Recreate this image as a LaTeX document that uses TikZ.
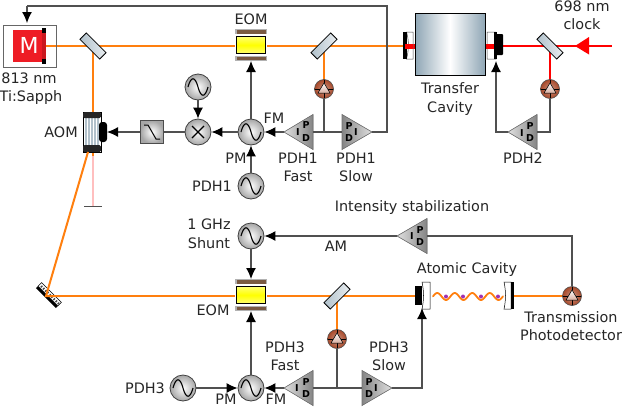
\documentclass[tikz,border=0pt]{standalone}
\usepackage{fontspec}
\setmainfont{DejaVu Sans}
\usetikzlibrary{arrows.meta,calc,shapes.geometric}
\definecolor{beam}{HTML}{FF7F0E}
\definecolor{wirec}{HTML}{505050}
\definecolor{brownb}{HTML}{7A5A42}
\definecolor{steel}{HTML}{8FA6B5}
\definecolor{pdred}{HTML}{A8492A}
\definecolor{dotc}{HTML}{A030B0}
\definecolor{laserred}{HTML}{EE1C25}
\tikzset{
  lbl/.style={font=\fontsize{14.4}{16}\selectfont,inner sep=0pt,text=black!85,text height=10.5pt,text depth=0pt},
  beamline/.style={draw=beam,line width=2pt},
  redline/.style={draw=red,line width=2pt},
  wire/.style={draw=wirec,line width=1.2pt},
  sig/.style={wire,-{Latex[length=11pt,width=10pt,black]}},
  osc/.style={circle,draw=black!75,line width=.8pt,minimum size=26pt,inner sep=0pt,inner color=white,outer color=black!35,
    path picture={\draw[black,line width=1.1pt] ($(path picture bounding box.center)+(-10,0)$) .. controls +(3,-11) and +(-3,-11) .. ($(path picture bounding box.center)$) .. controls +(3,11) and +(-3,11) .. ($(path picture bounding box.center)+(10,0)$);}},
  mixer/.style={circle,draw=black!75,line width=.8pt,minimum size=26pt,inner sep=0pt,inner color=white,outer color=black!35,
    path picture={\draw[black,line width=1.2pt] ($(path picture bounding box.center)+(-6,-6)$) -- ++(12,12) ($(path picture bounding box.center)+(-6,6)$) -- ++(12,-12);}},
  pd/.style={circle,draw=black!70,line width=.6pt,minimum size=19pt,inner sep=0pt,inner color=pdred!60,outer color=pdred,
    path picture={\coordinate (pc) at (path picture bounding box.center);
      \draw[black,line width=.5pt] ($(pc)+(-10,0)$) -- ++(20,0) ($(pc)+(0,-10)$) -- ++(0,20);
      \fill[top color=white,bottom color=pdred!45,draw=black,line width=.5pt] ($(pc)+(-6,4)$) -- ($(pc)+(6,4)$) -- ($(pc)+(0,-6)$) -- cycle;}},
  ampL/.style={draw=black!55,line width=.6pt,left color=black!12,right color=black!48},
  ampR/.style={draw=black!55,line width=.6pt,left color=black!48,right color=black!12},
  bsplate/.style={draw=black,line width=.8pt,left color=steel!70,right color=steel!20},
  plab/.style={font=\fontsize{9.5}{10}\selectfont\bfseries,inner sep=0pt},
}
\newcommand{\ampl}[5]{% name, apex x, y, base x, kind
  \coordinate (#1a) at (#2,#3);
  \coordinate (#1b) at (#4,#3);
  \filldraw[#5] (#2,#3) -- (#4,#3-17.5) -- (#4,#3+17.5) -- cycle;
}
\newcommand{\eom}[3]{% name, x, y (centre)
  \fill[black!30] (#2-16,#3-16) rectangle (#2+16,#3+16);
  \fill[white] (#2-16,#3-11) rectangle (#2+16,#3+11);
  \fill[brownb] (#2-14.5,#3-15) rectangle (#2+14.5,#3-11.5);
  \fill[brownb] (#2-14.5,#3+11.5) rectangle (#2+14.5,#3+15);
  \node[draw=black,line width=1.1pt,minimum width=29pt,minimum height=17pt,inner sep=0pt,top color=yellow!55,bottom color=yellow!55,middle color=yellow] (#1) at (#2,#3) {};
  \coordinate (#1t) at (#2,#3-16);
  \coordinate (#1d) at (#2,#3+16);
}
\newcommand{\plate}[4]{% x,y,angle, name
  \node[bsplate,rotate=#3,minimum width=28pt,minimum height=9pt,inner sep=0pt] (#4) at (#1,#2) {};
}
\begin{document}
\begin{tikzpicture}[x=1pt,y=-1pt]
\useasboundingbox (0,0) rectangle (623,407);
\fill[white] (0,0) rectangle (623,407);
% nodes
\node[osc] (oscA) at (198,87) {};
\node[mixer] (mix) at (198,132) {};
\node[osc] (oscF) at (251,132) {};
\node[osc] (oscP) at (251,186) {};
\coordinate (jA) at (324,132);
\coordinate (jC) at (337,388);
\coordinate (ctl) at (27,6);
\coordinate (bs1) at (93,46);
\coordinate (bs2) at (324,46);
\coordinate (bs3) at (550,46);
\coordinate (bs4) at (337,296);
\coordinate (grat) at (46,296);
\coordinate (aomb) at (88,152);
% beams
\draw[beamline] (46,46) -- (405,46);
\draw[beamline] (bs1) -- (93,156);
\draw[beamline] (bs2) -- (324,80);
\draw[draw=red!25,line width=1.5pt] (93,156) -- (93,206);
\draw[wirec,line width=.8pt] (84,206) -- (102,206);
\draw[beamline] (bs4) -- (337,330);
\draw[beamline] (511,296) -- (563,296);
\draw[redline] (503,46) -- (612,46);
\draw[redline] (bs3) -- (550,80);
\draw[red,line width=5pt] (405,46) -- (497,46);
\draw[beamline] (grat) -- (415,296);
\node[osc] (oscS) at (251,236) {};
\node[osc] (oscL) at (251,388) {};
\node[osc] (oscT) at (183,388) {};
\node[pd] (pdA) at (324,89) {};
\node[pd] (pdB) at (550,89) {};
\node[pd] (pdC) at (337,339) {};
\node[pd] (pdT) at (572,296) {};
% cavity
\node[draw=black,line width=1pt,minimum width=70pt,minimum height=62pt,inner sep=0pt,left color=steel,right color=steel,middle color=white] (cav) at (450,44) {};
\fill[white,draw=black!70,line width=.5pt] (406.5,32) .. controls (409,40) and (409,50) .. (406.5,59) -- (413,59) -- (413,32) -- cycle;
\fill[black] (403,32) rectangle (406.5,59);
\fill[red] (405,44) rectangle (413,48.5);
\fill[white,draw=black!70,line width=.5pt] (487,32) -- (496,32) .. controls (494,40) and (494,50) .. (496,59) -- (487,59) -- cycle;
\fill[red] (487,44) rectangle (494,48.5);
\fill[black] (494,32) rectangle (497,59);
\fill[black,rounded corners=1pt] (496,34) rectangle (503,55);
% laser
\draw[black!60,line width=.8pt] (3,25) rectangle (56,67);
\fill[laserred] (13,30) rectangle (45,62);
\fill[black] (42,28) rectangle (46,64);
\fill[laserred!85!black] (42,33) rectangle (46,59);
\node[font=\fontsize{22}{22}\selectfont,text=white,inner sep=0pt] (mm) at (29,45) {M};
% plates
\plate{93}{46}{-45}{bsa}
\plate{324}{46}{45}{bsb}
\plate{550}{46}{-45}{bsc}
\plate{337}{296}{45}{bsd}
% EOMs
\eom{eomA}{251}{45}
\eom{eomB}{251}{295}
% AOM
\fill[white,draw=black,line width=.6pt] (83,112) rectangle (101,152);
\foreach \x in {85,88,91,94,97} {\fill[steel!70] (\x,118) rectangle (\x+1.6,145);}
\fill[black!85,rounded corners=1.5pt] (83,112) rectangle (101,118);
\fill[black!85,rounded corners=1.5pt] (83,145) rectangle (101,152);
\fill[black,rounded corners=3pt] (99,122) rectangle (107,142);
\coordinate (aom) at (107,132);
% Filter
\node[draw=black!70,line width=.8pt,minimum width=23pt,minimum height=23pt,inner sep=0pt,inner color=white,outer color=black!35] (filt) at (152,132) {};
\draw[black,line width=1pt] (144,125) -- (148,125) -- (156,139) -- (160,139);
% grating
\begin{scope}[shift={(48,296)},rotate=-45]
\fill[black] (-14,0) rectangle (14,3);
\draw[black,fill=white,line width=.5pt] (-14,0) rectangle (14,-5);
\foreach \x in {-12,-9,...,12} {\fill[black!70] (\x,-3.2) rectangle (\x+1.4,-1);}
\end{scope}
\draw[beamline] (aomb) -- (grat) -- (60,296);
% atomic cavity
\fill[black] (415,286) rectangle (422,305);
\draw[black,fill=white,line width=.5pt] (422,282) .. controls (424,291) and (424,300) .. (422,309) -- (430,309) -- (430,282) -- cycle;
\draw[black,fill=white,line width=.5pt] (504,282) -- (511,282) -- (511,309) -- (504,309) .. controls (506,300) and (506,291) .. (504,282) -- cycle;
\fill[black] (511,282) rectangle (514,309);
\draw[beam,line width=1.8pt,line cap=round] plot[domain=433:503,samples=70,smooth] (\x,{296.5+3.5*cos((\x-446)/17.5*360)});
\foreach \x in {446,463,481,498} {\fill[dotc] (\x,296.5) circle (2pt);}
% amps
\ampl{af}{284}{132}{313}{ampL}
\ampl{as}{372}{132}{342}{ampR}
\ampl{ab}{508}{132}{537}{ampL}
\ampl{ai}{397}{236}{427}{ampL}
\ampl{al}{284}{388}{313}{ampL}
\ampl{ar}{392}{388}{362}{ampR}
\node[plab] (p1) at (306,125) {P}; \node[plab] (d1) at (306,138) {D}; \node[plab] (i1) at (298,132) {I};
\node[plab] (p2) at (349,126) {P}; \node[plab] (d2) at (349,138) {D}; \node[plab] (i2) at (356,132) {I};
\node[plab] (p3) at (530,126) {P}; \node[plab] (d3) at (530,138) {D}; \node[plab] (i3) at (522,133) {I};
\node[plab] (p4) at (420,230) {P}; \node[plab] (d4) at (420,242) {D}; \node[plab] (i4) at (412,236) {I};
\node[plab] (p5) at (306,382) {P}; \node[plab] (d5) at (306,394) {D}; \node[plab] (i5) at (297,388) {I};
\node[plab] (p6) at (369,382) {P}; \node[plab] (d6) at (369,394) {D}; \node[plab] (i6) at (376,388) {I};
% red arrow
\fill[red] (575,46) -- (589,37) -- (589,54.5) -- cycle;
% wires
\draw[wire] (asa) -- (387,132) -- (387,6) -- (ctl);
\draw[sig] (ctl) -- (27,23);
\draw[wire] (afb) -- (asb);
\draw[wire] (pdA) -- (jA);
\draw[sig] (afa) -- (oscF);
\draw[sig] (oscF) -- (mix);
\draw[sig] (oscA) -- (mix);
\draw[sig] (oscP) -- (oscF);
\draw[sig] (oscF) -- (eomAd);
\draw[wire] (mix) -- (filt);
\draw[sig] (filt) -- (aom);
\draw[wire] (pdB) |- (abb);
\draw[sig] (aba) -| (496,61);
\draw[sig] (aia) -- (oscS);
\draw[wire] (aib) -| (pdT);
\draw[sig] (oscS) -- (eomBt);
\draw[sig] (oscL) -- (eomBd);
\draw[sig] (oscT) -- (oscL);
\draw[sig] (ala) -- (oscL);
\draw[wire] (alb) -- (arb);
\draw[wire] (pdC) -- (jC);
\draw[sig] (ara) -| (422,308);
% labels
\node[lbl] (t1) at (29,78) {813 nm};
\node[lbl] (t2) at (31,96) {Ti:Sapph};
\node[lbl] (t3) at (61,132) {AOM};
\node[lbl] (t4) at (251,19) {EOM};
\node[lbl] (t5) at (274,118) {FM};
\node[lbl] (t6) at (236,158) {PM};
\node[lbl] (t7) at (212,186) {PDH1};
\node[lbl] (t8) at (298,158) {PDH1};
\node[lbl] (t9) at (298,176) {Fast};
\node[lbl] (t10) at (356,158) {PDH1};
\node[lbl] (t11) at (356,176) {Slow};
\node[lbl] (t12) at (582,6.5) {698 nm};
\node[lbl] (t13) at (582,24) {clock};
\node[lbl] (t14) at (450,88) {Transfer};
\node[lbl] (t15) at (450,107) {Cavity};
\node[lbl] (t16) at (523,158) {PDH2};
\node[lbl] (t17) at (412,206) {Intensity stabilization};
\node[lbl] (t18) at (336,246) {AM};
\node[lbl] (t19) at (467,268) {Atomic Cavity};
\node[lbl] (t20) at (209,224) {1 GHz};
\node[lbl] (t21) at (209,243) {Shunt};
\node[lbl] (t22) at (213,310) {EOM};
\node[lbl] (t23) at (285,347) {PDH3};
\node[lbl] (t24) at (285,365) {Fast};
\node[lbl] (t25) at (389,347) {PDH3};
\node[lbl] (t26) at (389,365) {Slow};
\node[lbl] (t27) at (145,388) {PDH3};
\node[lbl] (t28) at (226,399) {PM};
\node[lbl] (t29) at (276,399) {FM};
\node[lbl] (t30) at (571,317) {Transmission};
\node[lbl] (t31) at (571,335) {Photodetector};
\end{tikzpicture}
\end{document}
